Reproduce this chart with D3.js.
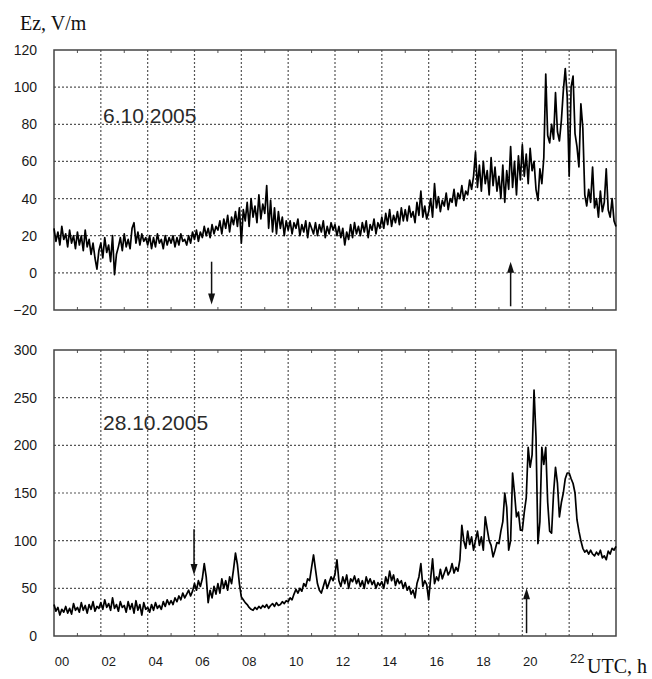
<!DOCTYPE html>
<html><head><meta charset="utf-8">
<script src="https://cdn.jsdelivr.net/npm/d3@7"></script>
<style>body{margin:0;background:#fff}</style>
</head><body><svg id="c" width="652" height="679" xmlns="http://www.w3.org/2000/svg"></svg>
<script>
// ---- data ----
const samplesPerHour = 12;             // 5-minute samples, 00 .. 24 UTC
const hourTicks = [0,2,4,6,8,10,12,14,16,18,20,22];
const hourTickLabels = ["00","02","04","06","08","10","12","14","16","18","20","22"];
const topTicks = [-20,0,20,40,60,80,100,120];
const bottomTicks = [0,50,100,150,200,250,300];
const dateLabels = ["6.10.2005","28.10.2005"];

// Ez, V/m  6.10.2005
const ez06 = [
 24,17,22,15,25,18,21,14,23,16,20,13,
 22,15,20,12,23,14,18,10,16,8,2,12,
 16,8,19,11,15,6,20,-1,10,14,19,12,
 21,14,18,13,24,27,16,22,15,21,17,19,
 15,20,13,19,14,21,16,18,13,20,15,19,
 16,20,14,19,15,21,17,18,15,20,16,22,
 18,23,17,22,19,25,20,24,19,26,21,25,
 23,28,21,29,24,31,22,30,26,33,25,35,
 16,34,28,38,25,40,30,36,27,42,29,37,
 32,47,24,39,22,35,21,33,24,30,20,28,
 23,28,21,27,24,29,20,26,22,28,19,27,
 24,21,27,20,26,22,28,19,25,21,27,23,
 26,20,25,19,24,15,22,18,26,19,27,21,
 25,20,27,22,28,19,26,23,29,21,27,24,
 30,24,32,26,34,25,31,27,33,26,35,28,
 34,28,36,30,33,27,38,31,44,30,36,29,
 33,40,30,48,35,41,33,39,36,43,34,40,
 38,45,36,43,40,47,39,44,42,50,45,52,
 65,46,58,44,60,48,55,42,62,47,57,44,
 52,40,58,38,55,45,68,46,60,42,63,50,
 69,52,64,48,67,55,60,45,39,56,48,62,
 107,74,70,80,72,97,76,71,82,98,110,95,
 52,100,106,75,68,57,91,78,42,36,45,38,
 57,35,40,30,44,33,38,56,34,30,40,28,
 25];

// Ez, V/m  28.10.2005
const ez28 = [
 33,26,30,22,28,25,31,24,29,23,34,27,
 30,25,35,27,32,24,33,28,36,26,31,29,
 35,28,38,30,34,27,40,29,33,26,36,30,
 32,25,36,28,34,24,37,27,33,22,35,28,
 30,25,33,27,35,29,32,28,36,31,38,33,
 37,33,40,36,42,38,45,40,44,48,42,47,
 55,48,58,52,60,76,62,35,48,40,52,44,
 55,45,60,50,58,48,62,55,70,87,75,55,
 41,38,35,33,30,28,27,30,28,31,29,32,
 30,33,29,32,34,31,35,32,33,36,34,37,
 36,40,38,44,49,45,50,47,55,52,60,58,
 72,85,70,55,48,45,52,59,50,56,62,58,
 65,80,58,52,62,55,64,50,60,57,63,55,
 60,52,58,50,62,55,60,54,58,50,56,53,
 57,50,62,55,68,58,64,53,60,55,58,50,
 56,48,52,44,48,40,55,62,76,52,58,54,
 38,60,81,55,62,58,70,60,66,72,64,68,
 76,66,72,68,80,116,100,92,110,96,104,90,
 100,110,95,104,90,125,112,100,95,83,90,98,
 97,110,120,150,135,90,100,171,150,125,130,111,
 111,130,145,198,177,190,258,209,97,120,198,180,
 198,140,110,108,150,177,160,125,140,150,165,171,
 171,165,160,150,122,110,100,92,88,90,86,90,
 86,84,88,85,90,82,84,80,89,86,92,90,
 94];

// arrows: hour, start value, end value (head at end)
const arrowHours06 = [6.73, 19.5];
const arrowFrom06 = [6, -18];
const arrowTo06 = [-17, 6];
const arrowHours28 = [5.98, 20.18];
const arrowFrom28 = [112, 3];
const arrowTo28 = [64, 50];

// ---- drawing ----
const svg = d3.select("#c");
const x = d3.scaleLinear().domain([0,24]).range([54,616]);
const gridColor = "#555555";
const FONT = "'Liberation Sans', Arial, sans-serif";

function arrow(g, xp, y1, y2) {
  g.append("line").attr("x1",xp).attr("x2",xp).attr("y1",y1)
    .attr("y2", y2 + (y2 > y1 ? -8 : 8))
    .attr("stroke","#111").attr("stroke-width",1.5);
  const dir = y2 > y1 ? -1 : 1;
  g.append("path")
    .attr("d",`M${xp},${y2} L${xp-3.5},${y2+dir*11} L${xp+3.5},${y2+dir*11} Z`)
    .attr("fill","#111");
}

function panel(top, bottom, domain, ticks, data, label, labelY, aH, aF, aT) {
  const y = d3.scaleLinear().domain(domain).range([bottom, top]);
  const g = svg.append("g");
  const grid = g.append("g");
  for (const h of hourTicks) {
    if (h === 0) continue;
    grid.append("line").attr("x1",x(h)).attr("x2",x(h)).attr("y1",top).attr("y2",bottom)
      .style("stroke",gridColor).style("stroke-width","1.2px").style("stroke-dasharray","2 2");
  }
  for (const t of ticks.slice(1,-1)) {
    grid.append("line").attr("x1",x(0)).attr("x2",x(24)).attr("y1",y(t)).attr("y2",y(t))
      .style("stroke",gridColor).style("stroke-width","1.2px").style("stroke-dasharray","2 2");
  }
  for (let h = 1; h < 24; h += 2) {
    grid.append("line").attr("x1",x(h)).attr("x2",x(h)).attr("y1",top).attr("y2",top+3)
      .style("stroke","#555").style("stroke-width","1px");
    grid.append("line").attr("x1",x(h)).attr("x2",x(h)).attr("y1",bottom).attr("y2",bottom-3)
      .style("stroke","#555").style("stroke-width","1px");
  }
  g.append("path")
    .attr("d",`M${x(0)},${top} H${x(24)} V${bottom} H${x(0)} Z`)
    .style("fill","none").style("stroke","#444").style("stroke-width","1.5px");
  // y axis labels
  const ax = g.append("g").attr("transform",`translate(${x(0)},0)`)
    .call(d3.axisLeft(y).tickValues(ticks).tickSize(0).tickPadding(17).tickFormat(d3.format("d")));
  ax.select(".domain").remove();
  ax.selectAll("text").attr("font-family",FONT).attr("font-size",14).attr("fill","#1a1a1a");
  // data line
  const line = d3.line().x((d,i)=>x(i/samplesPerHour)).y(d=>y(d));
  g.append("path").datum(data).attr("d",line).attr("fill","none")
    .attr("stroke","#000").attr("stroke-width",1.7).attr("stroke-linejoin","round");
  // date label
  g.append("text").attr("x",103).attr("y",labelY).text(label)
    .attr("font-family",FONT).attr("font-size",21).attr("fill","#2a2a2a");
  // arrows
  aH.forEach((h,i)=>arrow(g, x(h), y(aF[i]), y(aT[i])));
  return y;
}

panel(50, 310, [-20,120], topTicks, ez06, dateLabels[0], 123, arrowHours06, arrowFrom06, arrowTo06);
panel(350, 636, [0,300], bottomTicks, ez28, dateLabels[1], 430, arrowHours28, arrowFrom28, arrowTo28);

// x tick labels
const xl = svg.append("g");
hourTicks.forEach((h,i)=>{
  xl.append("text").attr("x",x(h)+8).attr("y", i===hourTicks.length-1 ? 663 : 666)
    .attr("text-anchor","middle").attr("font-family",FONT).attr("font-size",13).attr("fill","#1a1a1a")
    .text(hourTickLabels[i]);
});

// axis titles
svg.append("text").attr("x",20).attr("y",30).text("Ez, V/m")
  .attr("font-family","'Liberation Serif', 'Times New Roman', serif").attr("font-size",20).attr("fill","#111");
svg.append("text").attr("x",587).attr("y",673).text("UTC, h")
  .attr("font-family","'Liberation Serif', 'Times New Roman', serif").attr("font-size",20).attr("fill","#111");
</script></body></html>
